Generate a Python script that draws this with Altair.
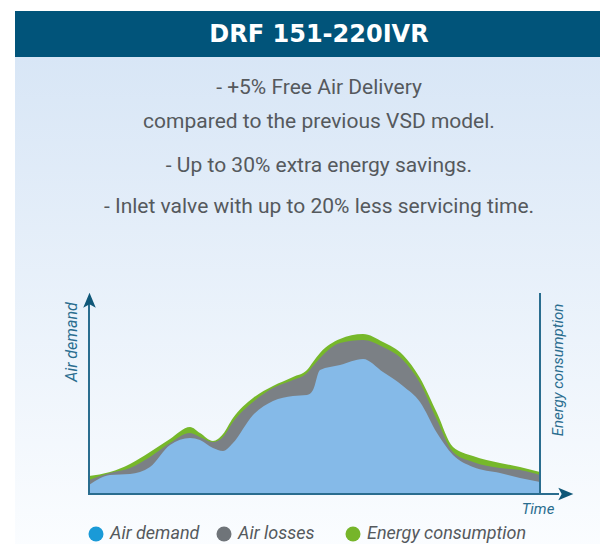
import altair as alt
import pandas as pd

# ---- data (time units, demand units) ----
time = [0, 21, 41, 61, 81, 101, 111, 124, 134, 144, 164, 184, 204, 218, 224, 231,
        251, 274, 294, 314, 331, 348, 364, 384, 411, 431, 451]
air_demand = [9, 19, 20, 27, 49, 56, 54, 46, 43, 51, 79, 93, 98, 99, 104, 124,
              129, 135, 122, 108, 92, 61, 39, 27, 21, 16, 12]
air_losses_top = [14, 21, 26, 37, 51, 61, 57, 52, 57, 72, 92, 106, 114, 121, 128, 136,
                  151, 154, 147, 134, 111, 74, 42, 32, 26, 24, 19]
energy_top = [18, 22, 30, 42, 55, 67, 61, 53, 60, 76, 96, 108, 117, 124, 132, 141,
              155, 160, 152, 139, 116, 81, 47, 38, 31, 27, 22]

title_text = "DRF 151-220IVR"
bullets = ["- +5% Free Air Delivery",
           "compared to the previous VSD model.",
           "- Up to 30% extra energy savings.",
           "- Inlet valve with up to 20% less servicing time."]
bullet_y = [-206, -172, -128, -87]
legend_labels = ["Air demand", "Air losses", "Energy consumption"]
legend_colors = ["#1a9ad7", "#6f7479", "#76b52a"]
legend_x = [7, 135, 264]
area_colors = ["#85bae8", "#7b8085", "#76b82a"]
axis_color = "#2a6d8f"

df = pd.DataFrame({"t": time, "demand": air_demand,
                   "losses": air_losses_top, "energy": energy_top})
one = pd.DataFrame({"k": [0]})

xs = alt.Scale(domain=[0, 451], nice=False, zero=False)
ys = alt.Scale(domain=[0, 200], nice=False)

layers = []

# background gradient
layers.append(alt.Chart(one).mark_rect(
    fill=alt.Gradient(gradient="linear",
                      stops=[alt.GradientStop(color="#d8e6f6", offset=0),
                             alt.GradientStop(color="#fbfdff", offset=1)],
                      x1=0, x2=0, y1=0, y2=1)
).encode(x=alt.value(-74), x2=alt.value(530), y=alt.value(-237), y2=alt.value(260)))

# header band
layers.append(alt.Chart(one).mark_rect(color="#01547a").encode(
    x=alt.value(-74), x2=alt.value(530), y=alt.value(-283), y2=alt.value(-237)))

layers.append(alt.Chart(one).mark_text(
    text=title_text, font="DejaVu Sans", fontWeight="bold", fontSize=24,
    color="white", align="center", baseline="middle"
).encode(x=alt.value(230), y=alt.value(-259)))

for line, yy in zip(bullets, bullet_y):
    layers.append(alt.Chart(one).mark_text(
        text=line, font="Roboto", fontSize=21, color="#55595d",
        align="center", baseline="middle"
    ).encode(x=alt.value(230), y=alt.value(yy)))

# areas
for col, colr in zip(["energy", "losses", "demand"], area_colors[::-1]):
    layers.append(alt.Chart(df).mark_area(color=colr, interpolate="monotone", opacity=1).encode(
        x=alt.X("t:Q", scale=xs, axis=None),
        y=alt.Y(f"{col}:Q", scale=ys, axis=None)))

# axes lines
layers.append(alt.Chart(one).mark_rule(color=axis_color, strokeWidth=2).encode(
    x=alt.value(0), y=alt.value(8), y2=alt.value(201)))
layers.append(alt.Chart(one).mark_rule(color=axis_color, strokeWidth=2).encode(
    x=alt.value(451), y=alt.value(-1), y2=alt.value(201)))
layers.append(alt.Chart(one).mark_rule(color=axis_color, strokeWidth=2).encode(
    x=alt.value(0), x2=alt.value(470), y=alt.value(200)))

# arrow heads
layers.append(alt.Chart(one).mark_point(
    shape="M0,-1L0.75,0.8L0,0.4L-0.75,0.8Z", filled=True, size=280,
    color="#0f5778", opacity=1, strokeWidth=0
).encode(x=alt.value(0.5), y=alt.value(7)))
layers.append(alt.Chart(one).mark_point(
    shape="M1,0L-0.8,-0.75L-0.4,0L-0.8,0.75Z", filled=True, size=280,
    color="#0f5778", opacity=1, strokeWidth=0
).encode(x=alt.value(476), y=alt.value(200)))

# axis titles
layers.append(alt.Chart(one).mark_text(
    text="Air demand", font="Roboto", fontStyle="italic", fontSize=16,
    color=axis_color, angle=270, align="center", baseline="middle"
).encode(x=alt.value(-17), y=alt.value(48)))
layers.append(alt.Chart(one).mark_text(
    text="Energy consumption", font="Roboto", fontStyle="italic", fontSize=15,
    color=axis_color, angle=270, align="center", baseline="middle"
).encode(x=alt.value(469), y=alt.value(76)))
layers.append(alt.Chart(one).mark_text(
    text="Time", font="Roboto", fontStyle="italic", fontSize=15,
    color=axis_color, align="center", baseline="middle"
).encode(x=alt.value(449), y=alt.value(215)))

# legend
for lab, colr, lx in zip(legend_labels, legend_colors, legend_x):
    layers.append(alt.Chart(one).mark_point(
        shape="circle", filled=True, size=225, color=colr, opacity=1
    ).encode(x=alt.value(lx), y=alt.value(240)))
    layers.append(alt.Chart(one).mark_text(
        text=lab, font="Roboto", fontStyle="italic", fontSize=18, color="#55595d",
        align="left", baseline="middle"
    ).encode(x=alt.value(lx + 14), y=alt.value(240)))

chart = alt.layer(*layers).properties(
    width=451, height=200,
    autosize=alt.AutoSizeParams(type="none"),
    padding={"left": 81, "top": 286, "right": 60, "bottom": 50},
    background="white"
).configure_view(stroke=None)

chart.save("out.html", embed_options={"renderer": "svg", "actions": False})
